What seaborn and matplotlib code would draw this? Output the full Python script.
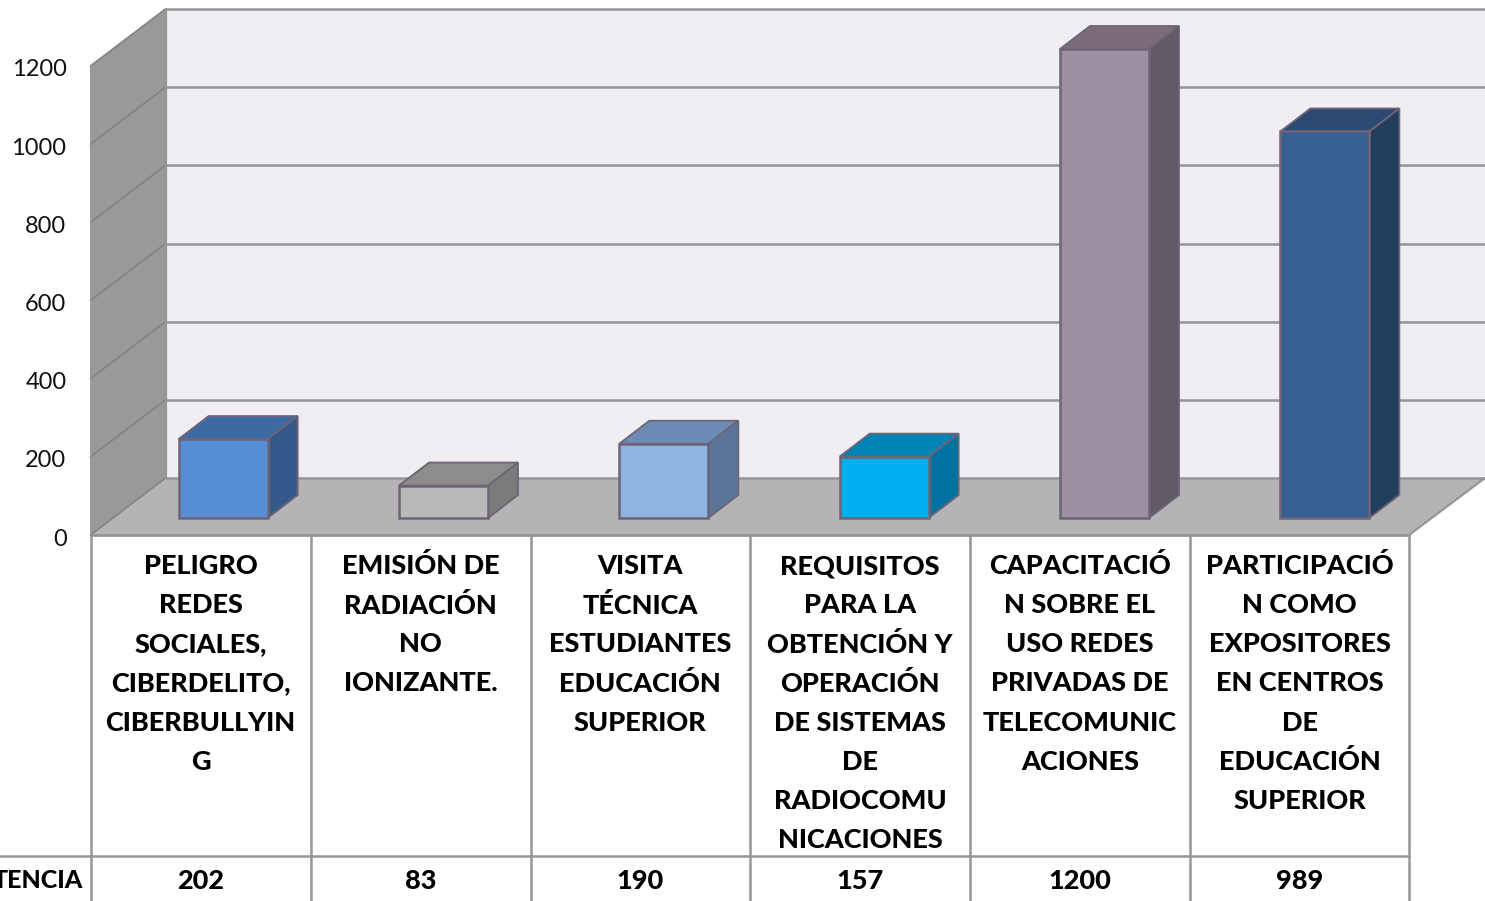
import numpy as np
import matplotlib as mpl
mpl.use('Agg')

import matplotlib.pyplot as plt
from matplotlib.patches import Polygon
import seaborn as sns

categories = [
    "PELIGRO\nREDES\nSOCIALES,\nCIBERDELITO,\nCIBERBULLYIN\nG",
    "EMISIÓN DE\nRADIACIÓN\nNO\nIONIZANTE.",
    "VISITA\nTÉCNICA\nESTUDIANTES\nEDUCACIÓN\nSUPERIOR",
    "REQUISITOS\nPARA LA\nOBTENCIÓN Y\nOPERACIÓN\nDE SISTEMAS\nDE\nRADIOCOMU\nNICACIONES",
    "CAPACITACIÓ\nN SOBRE EL\nUSO REDES\nPRIVADAS DE\nTELECOMUNIC\nACIONES",
    "PARTICIPACIÓ\nN COMO\nEXPOSITORES\nEN CENTROS\nDE\nEDUCACIÓN\nSUPERIOR",
]
values = [202, 83, 190, 157, 1200, 989]
row_label = "TENCIA"
y_ticks = [0, 200, 400, 600, 800, 1000, 1200]

front_colors = ['#558ED5', '#B9B9B9', '#8EB4E3', '#00B0F0', '#9C8FA0', '#376092']
top_colors = ['#3E6AA4', '#8C8C8C', '#6C8BB5', '#0084B5', '#7A6C79', '#2A4A72']
side_colors = ['#345A8C', '#7B7B7B', '#5A7598', '#0072A0', '#635A68', '#223E5E']

W, H = 1485, 901
EDGE = '#6E6478'
GRID = '#969696'
FONT = 'Lato'

sns.set_theme(style='white')
plt.rcParams['font.family'] = [FONT, 'DejaVu Sans']

fig = plt.figure(figsize=(W / 100, H / 100), dpi=100)

# background layer works in image pixels, y going down
bg = fig.add_axes([0, 0, 1, 1])
bg.set_xlim(0, W)
bg.set_ylim(H, 0)
bg.axis('off')

# bars go on their own axes, placed on the plane of the bar fronts
left, right, base, top = 113, 1435, 518, 49
ax = fig.add_axes([left / W, 1 - base / H, (right - left) / W, (base - top) / H])
ax.patch.set_alpha(0)
sns.barplot(x=list(range(len(values))), y=values, hue=list(range(len(values))),
            palette=front_colors, saturation=1, width=0.404, legend=False,
            edgecolor=EDGE, linewidth=1.8, ax=ax, zorder=5)
ax.set_xlim(-0.5, 5.5)
ax.set_ylim(0, 1200)
ax.axis('off')
for p in ax.patches:
    p.set_clip_on(False)

px_per_unit = (base - top) / 1200.0

# walls and floor
x0, x1, y0 = 90.5, 165.5, 535
wall_y0 = 478
bg.add_patch(Polygon([(x1, 9), (W, 9), (W, wall_y0), (x1, wall_y0)], fc='#F0EEF2', ec='none', zorder=1))
bg.add_patch(Polygon([(x0, y0 - 1200 * px_per_unit), (x1, wall_y0 - 1200 * px_per_unit),
                      (x1, wall_y0), (x0, y0)], fc='#9A989A', ec='none', zorder=1))
bg.add_patch(Polygon([(x0, y0), (x1, wall_y0), (W, wall_y0), (1409, y0)], fc='#B5B3B6', ec='none', zorder=1))

for t in y_ticks:
    d = t * px_per_unit
    bg.plot([x1, W], [wall_y0 - d, wall_y0 - d], color=GRID, lw=1.8, zorder=2, solid_capstyle='butt')
    bg.plot([x0, x1], [y0 - d, wall_y0 - d], color='#858585', lw=1.3, zorder=2)
    bg.text(66.5, y0 - d + 4, str(t), ha='right', va='center', fontsize=17, color='#111111', zorder=6)
bg.plot([x0, x0], [y0 - 1200 * px_per_unit, y0], color=GRID, lw=1.3, zorder=2)
bg.plot([x1, x1], [9, wall_y0], color=GRID, lw=1.6, zorder=2)
bg.plot([1409, W], [y0, wall_y0], color=GRID, lw=1.6, zorder=2)
bg.plot([x0, 1409], [y0, y0], color=GRID, lw=2, zorder=3)

# top and side faces follow the bars drawn by seaborn
dx, dy = 30, -23
for p, tc, sc in zip(ax.patches, top_colors, side_colors):
    (xa, ya), (xb, yb) = ax.transData.transform([(p.get_x(), p.get_height()),
                                                 (p.get_x() + p.get_width(), 0)])
    xl, xr = xa, xb
    yt, yb = H - ya, H - yb
    bg.add_patch(Polygon([(xl, yt), (xr, yt), (xr + dx, yt + dy), (xl + dx, yt + dy)],
                         fc=tc, ec=EDGE, lw=1.3, zorder=4))
    bg.add_patch(Polygon([(xr, yt), (xr + dx, yt + dy), (xr + dx, yb + dy), (xr, yb)],
                         fc=sc, ec=EDGE, lw=1.3, zorder=4))

# data table under the chart
col_edges = [90.5, 310.5, 530.5, 750, 970, 1190, 1409]
for x in col_edges:
    bg.plot([x, x], [y0, H], color=GRID, lw=1.8, zorder=2)
bg.plot([0, 1409], [856, 856], color=GRID, lw=1.8, zorder=2)

for i, (label, v) in enumerate(zip(categories, values)):
    cx = (col_edges[i] + col_edges[i + 1]) / 2
    for j, line in enumerate(label.split('\n')):
        bg.text(cx, 566 + j * 39.15, line, ha='center', va='center', fontsize=19.5,
                fontweight=900, color='black', zorder=6)
    bg.text(cx, 881, str(v), ha='center', va='center', fontsize=19.5, fontweight=900, color='black')
bg.text(83, 880, row_label, ha='right', va='center', fontsize=18, fontweight=900, color='black')

plt.savefig('out.png', format='png', dpi=100)
plt.close()
